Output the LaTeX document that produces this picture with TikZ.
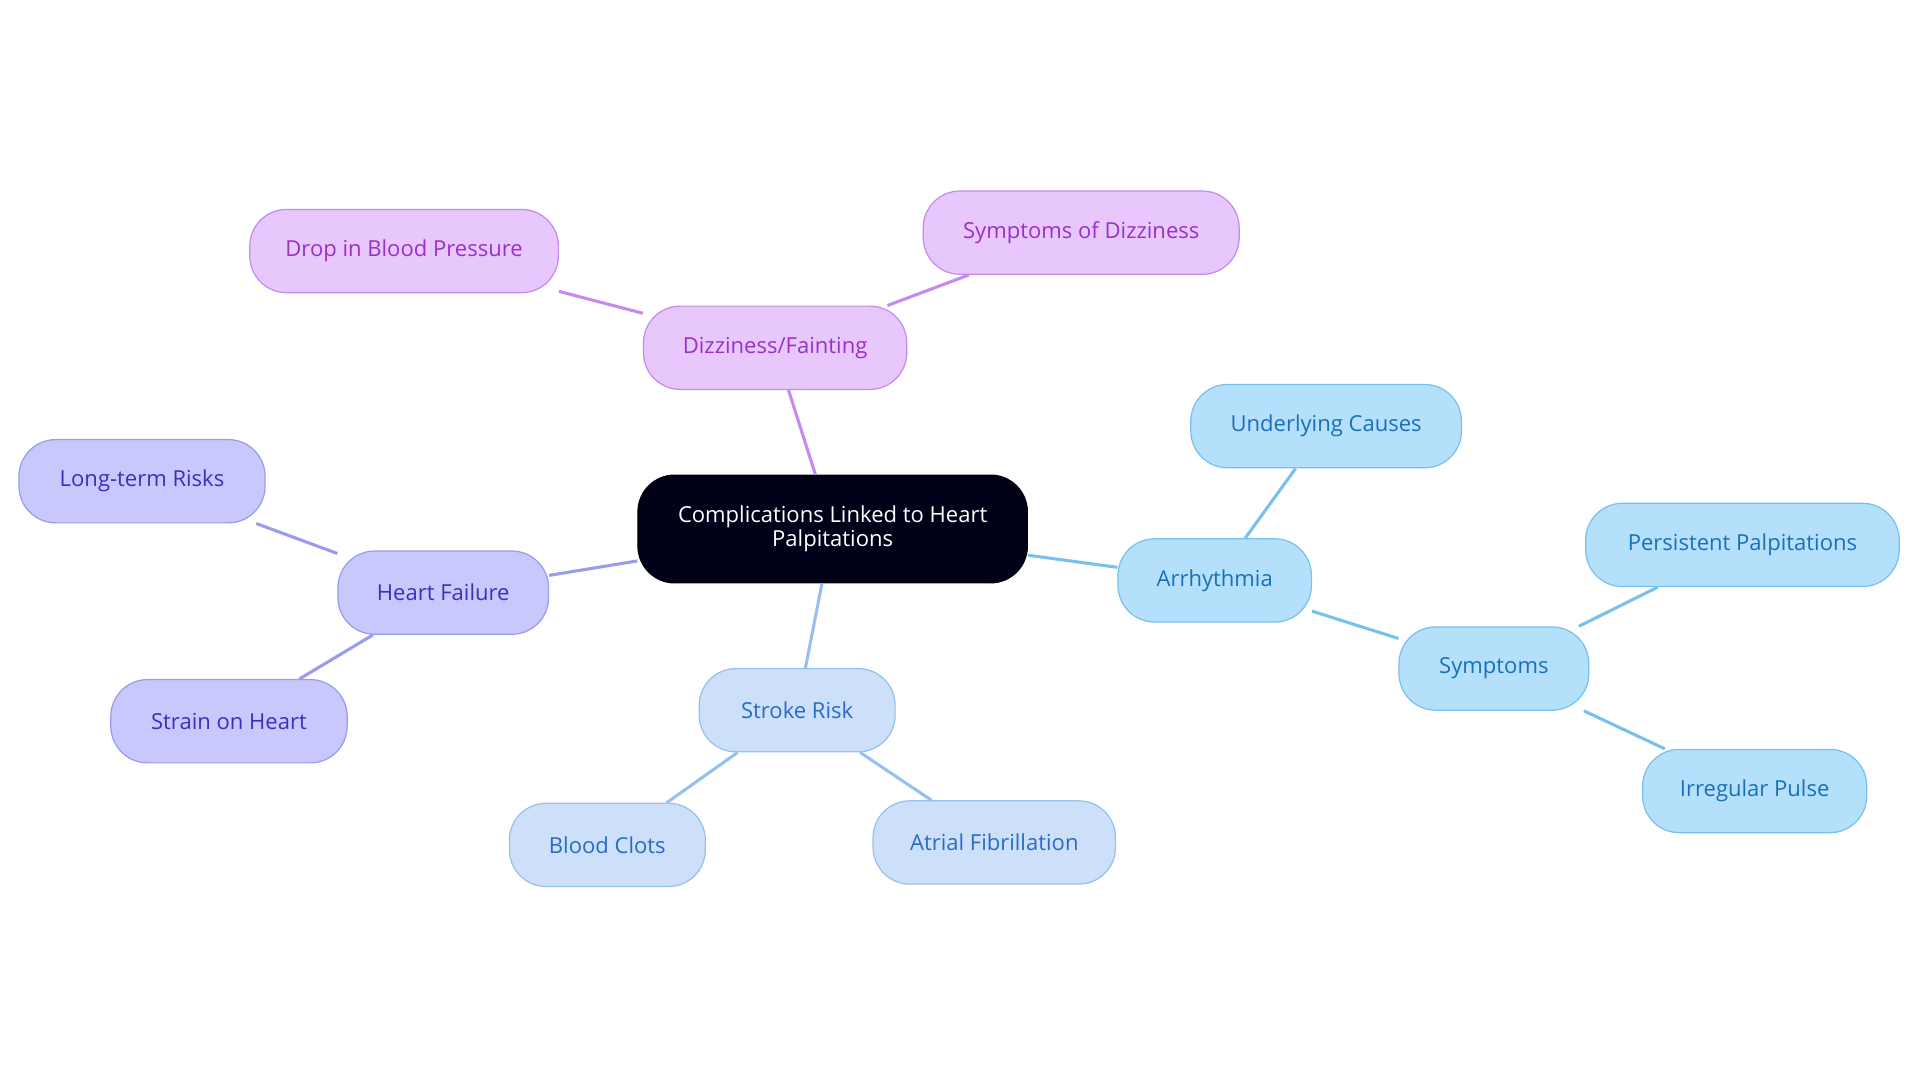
\documentclass[tikz,border=0pt]{standalone}
\usepackage{fontspec}
\setmainfont{Open Sans}
\definecolor{pf}{HTML}{E8C8FC}\definecolor{pb}{HTML}{C58AF0}\definecolor{pt}{HTML}{9A30C8}
\definecolor{lf}{HTML}{C8C8FC}\definecolor{lb}{HTML}{9A9AF0}\definecolor{lt}{HTML}{3A30C0}
\definecolor{sf}{HTML}{CCE0FA}\definecolor{sb}{HTML}{98C0EE}\definecolor{st}{HTML}{2A6AC8}
\definecolor{af}{HTML}{B4E0FC}\definecolor{ab}{HTML}{78C0EE}\definecolor{at}{HTML}{1A70B8}
\begin{document}
\begin{tikzpicture}[x=1pt,y=-1pt,
 box/.style={rounded corners=30pt,minimum height=68pt,font=\fontsize{18}{20}\selectfont,inner sep=0pt,line width=1pt},
 pu/.style={box,fill=pf,draw=pb,text=pt}, la/.style={box,fill=lf,draw=lb,text=lt},
 sk/.style={box,fill=sf,draw=sb,text=st}, ar/.style={box,fill=af,draw=ab,text=at},
 e/.style={line width=2.5pt}]
\useasboundingbox[fill=white] (0,0) rectangle (1568,884);
\node[box,fill=black!90!blue,draw=black,text=white,minimum width=318pt,minimum height=88pt,align=center,font=\fontsize{18}{20}\selectfont] (c) at (680,432) {Complications Linked to Heart\\Palpitations};
\node[pu,minimum width=215pt] (d) at (633,284) {Dizziness/Fainting};
\node[pu,minimum width=252pt] (d1) at (330,205) {Drop in Blood Pressure};
\node[pu,minimum width=258pt] (d2) at (883,190) {Symptoms of Dizziness};
\node[la,minimum width=172pt] (h) at (362,484) {Heart Failure};
\node[la,minimum width=201pt] (h1) at (116,393) {Long-term Risks};
\node[la,minimum width=193pt] (h2) at (187,589) {Strain on Heart};
\node[sk,minimum width=160pt] (s) at (651,580) {Stroke Risk};
\node[sk,minimum width=160pt] (s1) at (496,690) {Blood Clots};
\node[sk,minimum width=198pt] (s2) at (812,688) {Atrial Fibrillation};
\node[ar,minimum width=158pt] (a) at (992,474) {Arrhythmia};
\node[ar,minimum width=221pt] (a1) at (1083,348) {Underlying Causes};
\node[ar,minimum width=155pt] (a2) at (1220,546) {Symptoms};
\node[ar,minimum width=256pt] (a3) at (1423,445) {Persistent Palpitations};
\node[ar,minimum width=183pt] (a4) at (1433,646) {Irregular Pulse};
\draw[e,pb] (c) -- (d); \draw[e,pb] (d) -- (d1); \draw[e,pb] (d) -- (d2);
\draw[e,lb] (c) -- (h); \draw[e,lb] (h) -- (h1); \draw[e,lb] (h) -- (h2);
\draw[e,sb] (c) -- (s); \draw[e,sb] (s) -- (s1); \draw[e,sb] (s) -- (s2);
\draw[e,ab] (c) -- (a); \draw[e,ab] (a) -- (a1); \draw[e,ab] (a) -- (a2);
\draw[e,ab] (a2) -- (a3); \draw[e,ab] (a2) -- (a4);
\end{tikzpicture}
\end{document}
